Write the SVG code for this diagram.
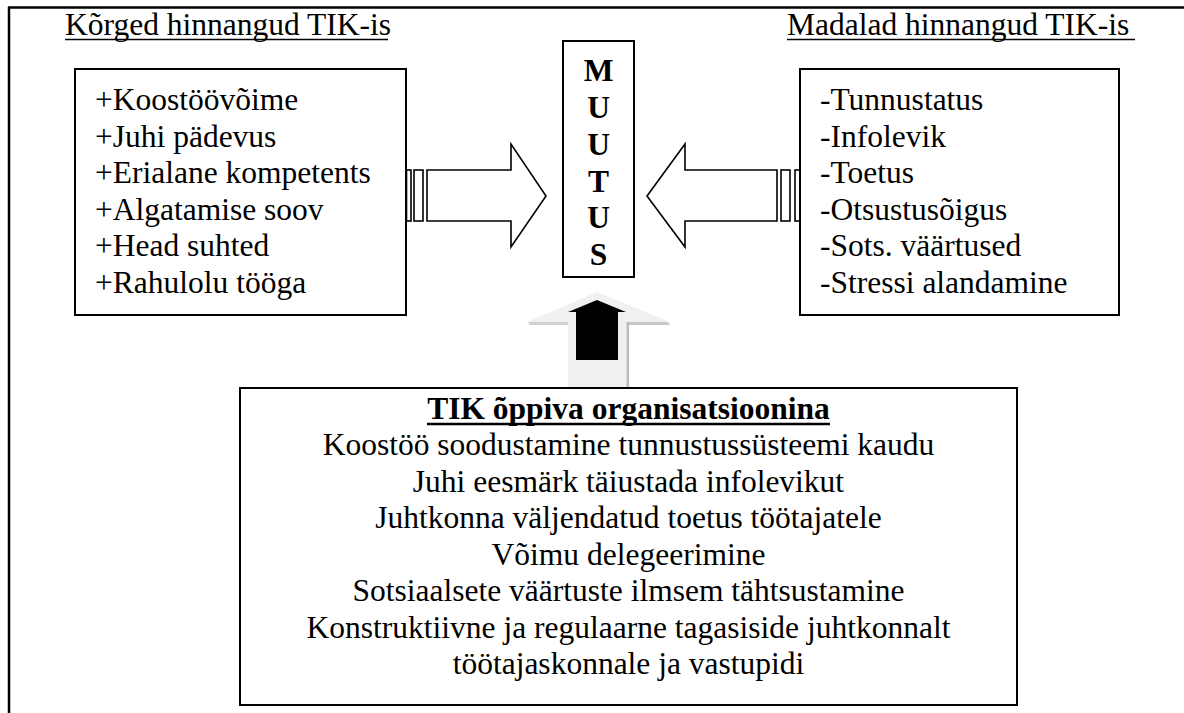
<svg xmlns="http://www.w3.org/2000/svg" width="1184" height="713" viewBox="0 0 1184 713">
<style>
text{font-family:"Liberation Serif","Times New Roman",serif;font-size:31.5px;fill:#000}
.b{font-weight:bold}
.box{fill:#fff;stroke:#000;stroke-width:2}
.arr{fill:#fff;stroke:#000;stroke-width:1.6;stroke-linejoin:miter}
</style>
<rect width="1184" height="713" fill="#fff"/>
<g id="frame">
<line x1="8" y1="7.5" x2="1184" y2="7.5" stroke="#000" stroke-width="2.5"/>
<line x1="9" y1="7" x2="9" y2="713" stroke="#000" stroke-width="2.5"/>
</g>
<g id="header-left">
<text x="65" y="35">Kõrged hinnangud TIK-is</text>
<line x1="65" y1="39.5" x2="388" y2="39.5" stroke="#000" stroke-width="1.6"/>
</g>
<g id="header-right">
<text x="787" y="35">Madalad hinnangud TIK-is</text>
<line x1="787" y1="39.5" x2="1135" y2="39.5" stroke="#000" stroke-width="1.6"/>
</g>
<g id="connectors">
<g id="arrow-left">
<rect class="arr" x="406.5" y="170" width="4.5" height="51"/>
<rect class="arr" x="414" y="170" width="9" height="51"/>
<path class="arr" d="M427,170 H511 V144 L546,196 L511,247 V221 H427 Z"/>
</g>
<g id="arrow-right">
<rect class="arr" x="795" y="170" width="5" height="51"/>
<rect class="arr" x="781" y="170" width="9" height="51"/>
<path class="arr" d="M777,170 H685 V144 L647,196 L685,247 V221 H777 Z"/>
</g>
<g id="arrow-up">
<path d="M597,292 L670,322 L628,322 V388 H568 V322 L527,322 Z" fill="#f0f0f0"/>
<path d="M628,322 H668 L670,325 H628 Z" fill="#c8c8c8"/>
<path d="M528,322 H568 V325 H530 Z" fill="#d0d0d0"/>
<rect x="626.5" y="322" width="2.5" height="66" fill="#bdbdbd"/>
<path d="M597,300 L626,312 H618 V360 H576 V312 H568 Z" fill="#000"/>
</g>
</g>
<g id="node-left">
<rect class="box" x="75" y="69" width="331" height="246"/>
<text x="95" y="110">+Koostöövõime</text>
<text x="95" y="146.5">+Juhi pädevus</text>
<text x="95" y="183">+Erialane kompetents</text>
<text x="95" y="219.5">+Algatamise soov</text>
<text x="95" y="256">+Head suhted</text>
<text x="95" y="292.5">+Rahulolu tööga</text>
</g>
<g id="node-right">
<rect class="box" x="800" y="69" width="319" height="246"/>
<text x="820" y="110">-Tunnustatus</text>
<text x="820" y="146.5">-Infolevik</text>
<text x="820" y="183">-Toetus</text>
<text x="820" y="219.5">-Otsustusõigus</text>
<text x="820" y="256">-Sots. väärtused</text>
<text x="820" y="292.5">-Stressi alandamine</text>
</g>
<g id="node-muutus">
<rect class="box" x="563" y="41" width="71" height="236"/>
<g class="b" text-anchor="middle">
<text class="b" x="598.5" y="81">M</text>
<text class="b" x="598.5" y="118">U</text>
<text class="b" x="598.5" y="155">U</text>
<text class="b" x="598.5" y="192">T</text>
<text class="b" x="598.5" y="228">U</text>
<text class="b" x="598.5" y="265">S</text>
</g>
</g>
<g id="node-bottom">
<rect class="box" x="240" y="388" width="777" height="317"/>
<g text-anchor="middle">
<text class="b" x="628.5" y="419">TIK õppiva organisatsioonina</text>
<line x1="427" y1="424" x2="830" y2="424" stroke="#000" stroke-width="2.5"/>
<text x="628.5" y="455">Koostöö soodustamine tunnustussüsteemi kaudu</text>
<text x="628.5" y="491.5">Juhi eesmärk täiustada infolevikut</text>
<text x="628.5" y="528">Juhtkonna väljendatud toetus töötajatele</text>
<text x="628.5" y="564.5">Võimu delegeerimine</text>
<text x="628.5" y="601">Sotsiaalsete väärtuste ilmsem tähtsustamine</text>
<text x="628.5" y="637.5">Konstruktiivne ja regulaarne tagasiside juhtkonnalt</text>
<text x="628.5" y="674">töötajaskonnale ja vastupidi</text>
</g>
</g>
</svg>
